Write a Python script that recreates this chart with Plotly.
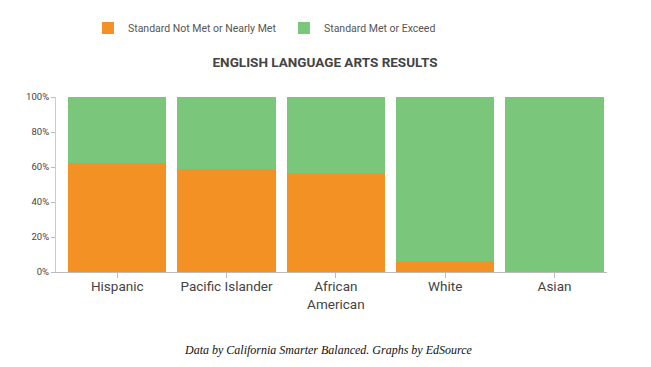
import plotly.graph_objects as go

categories = ["Hispanic", "Pacific Islander", "African<br>American", "White", "Asian"]
not_met = [62.5, 58.7, 56.7, 6.1, 0.0]
met = [37.5, 41.3, 43.3, 93.9, 100.0]
y_ticks = [0, 20, 40, 60, 80, 100]
y_tick_labels = ["0%", "20%", "40%", "60%", "80%", "100%"]

ORANGE = "#F39124"
GREEN = "#7AC77B"
SANS = "Roboto"

# page body has an 8px default margin, so the figure origin sits at (8, 8)
W, H = 643, 359

fig = go.Figure()
fig.add_trace(go.Bar(x=categories, y=not_met, name="Standard Not Met or Nearly Met",
                     marker=dict(color=ORANGE, line=dict(width=0))))
fig.add_trace(go.Bar(x=categories, y=met, name="Standard Met or Exceed",
                     marker=dict(color=GREEN, line=dict(width=0))))

fig.update_layout(
    barmode="stack",
    bargap=0.1,
    width=W, height=H,
    margin=dict(l=48, r=44, t=89, b=95, autoexpand=False),
    paper_bgcolor="white", plot_bgcolor="white",
    font=dict(family=SANS, color="#444"),
    title=dict(text="<b>ENGLISH LANGUAGE ARTS RESULTS</b>", x=(325 - 8) / W, xanchor="center",
               y=1 - 54 / H, yanchor="middle", yref="container",
               font=dict(size=13.5, color="#444", family=SANS)),
    legend=dict(orientation="h", x=0.058, xanchor="left", y=1 - 20 / H, yanchor="middle",
                yref="container", entrywidth=151, entrywidthmode="pixels",
                font=dict(size=10.5, color="#555", family=SANS), traceorder="normal"),
    showlegend=True,
)
fig.update_xaxes(range=[-0.56, 4.48], showline=True, linecolor="#bbb", linewidth=1,
                 ticks="outside", ticklen=5, tickcolor="#bbb", automargin=False,
                 ticklabelstandoff=-3,
                 tickfont=dict(size=13.5, color="#444", family=SANS), showgrid=False)
fig.update_yaxes(range=[0, 100], tickvals=y_ticks, ticktext=y_tick_labels, showline=True,
                 linecolor="#ccc", linewidth=1, ticks="outside", ticklen=4, tickcolor="#bbb",
                 automargin=False,
                 tickfont=dict(size=9.5, color="#444", family=SANS), showgrid=False, zeroline=False)

fig.add_annotation(text="<i>Data by California Smarter Balanced. Graphs by EdSource</i>",
                   xref="paper", yref="paper", x=(328 - 56) / 551, y=(272 - 350) / 175,
                   xanchor="center", yanchor="middle", showarrow=False,
                   font=dict(family="Liberation Serif", size=12, color="#111"))

fig.write_html("out.html")
